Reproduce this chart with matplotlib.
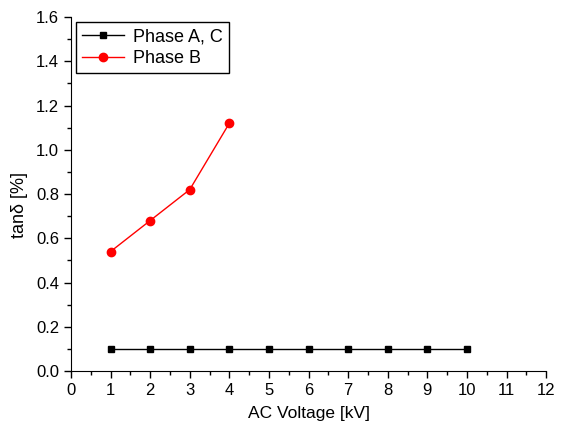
import matplotlib
matplotlib.use("Agg")
import matplotlib.pyplot as plt
import numpy as np

plt.rcParams['font.family'] = ['Liberation Sans', 'DejaVu Sans']

# données
v_ac = [1, 2, 3, 4, 5, 6, 7, 8, 9, 10]
tan_ac = [0.1, 0.1, 0.1, 0.1, 0.1, 0.1, 0.1, 0.1, 0.1, 0.1]
v_b = [1, 2, 3, 4]
tan_b = [0.54, 0.68, 0.82, 1.12]

fig = plt.figure(figsize=(5.63, 4.26), dpi=100)
ax = fig.add_axes([0.126, 0.129, 0.844, 0.831])

ax.plot(v_ac, tan_ac, 'ks-', lw=1, ms=5, label="Phase A, C")
ax.plot(v_b, tan_b, 'o-', color='red', lw=1, ms=6, label="Phase B")

ax.set_xlim(0, 12)
ax.set_ylim(0, 1.6)
ax.set_xticks(np.arange(0, 13, 1))
ax.set_xticks(np.arange(0.5, 12, 1), minor=True)
ax.set_yticks(np.arange(0, 1.61, 0.2))
ax.set_yticks(np.arange(0.1, 1.6, 0.2), minor=True)
ax.yaxis.set_major_formatter(matplotlib.ticker.FormatStrFormatter('%.1f'))

for s in ['top', 'right']:
    ax.spines[s].set_visible(False)
ax.tick_params(which='major', direction='out', length=5, width=1, labelsize=12)
ax.tick_params(which='minor', direction='out', length=3, width=1)

ax.set_xlabel("AC Voltage [kV]", fontsize=12.5, labelpad=6)
ax.set_ylabel("tanδ [%]", fontsize=13)
ax.yaxis.set_label_coords(-0.09, 0.47)

leg = ax.legend(loc='upper left', bbox_to_anchor=(0.011, 0.986), borderaxespad=0,
                fontsize=13, fancybox=False, edgecolor='black', framealpha=1,
                handlelength=2.3, handletextpad=0.5, borderpad=0.35, labelspacing=0.25)
leg.get_frame().set_linewidth(1)

fig.savefig("out.png", dpi=100)
